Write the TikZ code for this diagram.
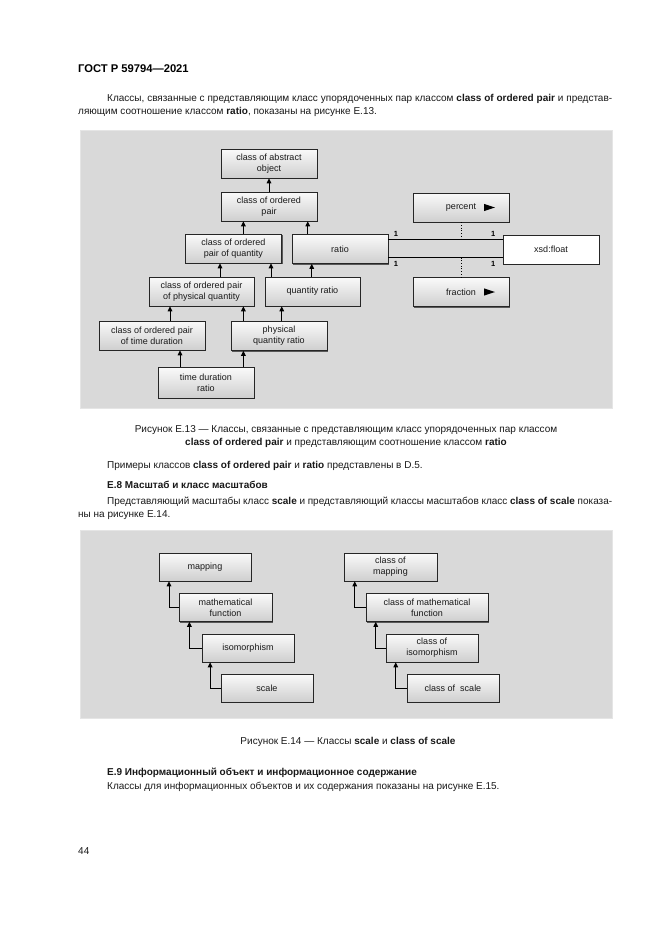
\documentclass[tikz,border=0pt]{standalone}
\usepackage{fontspec}
\setmainfont{Liberation Sans}
\usetikzlibrary{arrows.meta,shadows,calc}
\begin{document}
\begin{tikzpicture}[x=1pt,y=-1pt,
  box/.style={draw=gray!30!black, line width=0.6pt, top color=gray!4, bottom color=gray!38,
    minimum height=29pt, inner sep=1pt, align=center,
    font=\fontsize{9}{11}\selectfont, text=black!90,
    drop shadow={shadow xshift=1.4pt, shadow yshift=-1.4pt, fill=black!65, opacity=1}},
  wbox/.style={box, top color=white, bottom color=white},
  arr/.style={-{Triangle[length=5pt,width=4.6pt]}, line width=1pt},
  body/.style={anchor=base west, inner sep=0pt, font=\fontsize{10}{13}\selectfont, text=black!90},
  captext/.style={anchor=base, inner sep=0pt, font=\fontsize{10}{13}\selectfont, text=black!90},
  one/.style={inner sep=0pt, font=\bfseries\fontsize{7.5}{8}\selectfont},
  panel/.style={fill=black!15, draw=black!10, line width=0.8pt}
]
\fill[white] (0,0) rectangle (661,935);
\useasboundingbox (0,0) rectangle (661,935);

% header and text
\node[body, font=\bfseries\fontsize{11.2}{13}\selectfont, text=black] (hdr) at (78,72) {ГОСТ Р 59794—2021};
\node[body] (p1a) at (107,101.5) {\makebox[505pt][s]{Классы, связанные с представляющим класс упорядоченных пар классом \textbf{class of ordered pair} и представ-}};
\node[body] (p1b) at (78,114.5) {ляющим соотношение классом \textbf{ratio}, показаны на рисунке Е.13.};

% panel 1
\draw[panel] (80,130) rectangle (612,408);

\node[box, minimum width=96pt] (abs) at (269,163.5) {class of abstract\\object};
\node[box, minimum width=96pt] (pair) at (269,206.5) {class of ordered\\pair};
\node[box, minimum width=96pt] (opq) at (233.3,248.5) {class of ordered\\pair of quantity};
\node[box, minimum width=96pt] (ratio) at (340,249) {ratio};
\node[box, minimum width=105pt] (copq) at (201.5,291.5) {class of ordered pair\\of physical quantity};
\node[box, minimum width=95pt] (qratio) at (312.5,291.5) {quantity ratio};
\node[box, minimum width=106pt] (otd) at (152,335.5) {class of ordered pair\\of time duration};
\node[box, minimum width=96pt] (pqr) at (279,336) {physical\\quantity ratio};
\node[box, minimum width=96pt, minimum height=31pt] (tdr) at (206,382.5) {time duration\\ratio};
\node[box, minimum width=96pt] (percent) at (461,207.5) {percent};
\node[box, minimum width=96pt] (fraction) at (461,292) {fraction};
\node[wbox, minimum width=96pt] (float) at (551,249.5) {xsd:float};
\fill ($(percent.center)+(23,-3.6)$) -- ++(11,3.6) -- ++(-11,3.6) -- cycle;
\fill ($(fraction.center)+(23,-3.6)$) -- ++(11,3.6) -- ++(-11,3.6) -- cycle;

\coordinate (c1) at (243.4,0);
\coordinate (c2) at (307.7,0);
\coordinate (c3) at (220,0);
\coordinate (c4) at (271,0);
\coordinate (c5) at (311.7,0);
\coordinate (c6) at (170,0);
\coordinate (c8) at (281.7,0);
\coordinate (c9) at (180,0);
\coordinate (ly1) at (0,239.5);
\coordinate (ly2) at (0,257.5);

\draw[arr] (pair.north) -- (abs.south);
\draw[arr] (opq.north -| c1) -- (pair.south -| c1);
\draw[arr] (ratio.north -| c2) -- (pair.south -| c2);
\draw[arr] (copq.north -| c3) -- (opq.south -| c3);
\draw[arr] (qratio.north -| c4) -- (opq.south -| c4);
\draw[arr] (qratio.north -| c5) -- (ratio.south -| c5);
\draw[arr] (otd.north -| c6) -- (copq.south -| c6);
\draw[arr] (pqr.north -| c1) -- (copq.south -| c1);
\draw[arr] (pqr.north -| c8) -- (qratio.south -| c8);
\draw[arr] (tdr.north -| c9) -- (otd.south -| c9);
\draw[arr] (tdr.north -| c1) -- (pqr.south -| c1);

\draw[line width=0.8pt] (ratio.east |- ly1) -- (float.west |- ly1);
\draw[line width=0.8pt] (ratio.east |- ly2) -- (float.west |- ly2);
\draw[dotted, line width=0.7pt] (percent.south) -- (percent.south |- ly1);
\draw[dotted, line width=0.7pt] (fraction.north) -- (fraction.north |- ly2);
\node[one] (n1) at (396,233.5) {1};
\node[one] (n2) at (493.3,233.5) {1};
\node[one] (n3) at (396,263.5) {1};
\node[one] (n4) at (493.3,263.5) {1};

% caption 1 and text
\node[captext] (cap1a) at (346,432.5) {Рисунок Е.13 — Классы, связанные с представляющим класс упорядоченных пар классом};
\node[captext] (cap1b) at (346,445.5) {\textbf{class of ordered pair} и представляющим соотношение классом \textbf{ratio}};
\node[body] (p2) at (107,468.5) {Примеры классов \textbf{class of ordered pair} и \textbf{ratio} представлены в D.5.};
\node[body, font=\bfseries\fontsize{10}{13}\selectfont] (h8) at (107,488.5) {Е.8 Масштаб и класс масштабов};
\node[body] (p3a) at (107,504.5) {\makebox[505pt][s]{Представляющий масштабы класс \textbf{scale} и представляющий классы масштабов класс \textbf{class of scale} показа-}};
\node[body] (p3b) at (78,517.5) {ны на рисунке Е.14.};

% panel 2
\draw[panel] (80,530) rectangle (612,718);
\node[box, minimum width=92pt, minimum height=28pt] (map) at (205,567) {mapping};
\node[box, minimum width=93pt, minimum height=28pt] (mf) at (225.5,607.5) {mathematical\\function};
\node[box, minimum width=92pt, minimum height=28pt] (iso) at (248,648) {isomorphism};
\node[box, minimum width=92pt, minimum height=28pt] (sc) at (267,688) {scale};
\node[box, minimum width=93pt, minimum height=28pt] (cmap) at (390.5,567) {class of\\mapping};
\node[box, minimum width=122pt, minimum height=28pt] (cmf) at (427,607.5) {class of mathematical\\function};
\node[box, minimum width=92pt, minimum height=28pt] (ciso) at (432,648) {class of\\isomorphism};
\node[box, minimum width=92pt, minimum height=28pt] (csc) at (453,688) {class of\ \ scale};

\draw[arr] (mf.west) -| ([xshift=10.3pt]map.south west);
\draw[arr] (iso.west) -| ([xshift=10.7pt]mf.south west);
\draw[arr] (sc.west) -| ([xshift=8.4pt]iso.south west);
\draw[arr] (cmf.west) -| ([xshift=11pt]cmap.south west);
\draw[arr] (ciso.west) -| ([xshift=10pt]cmf.south west);
\draw[arr] (csc.west) -| ([xshift=10pt]ciso.south west);

% caption 2 and text
\node[captext] (cap2) at (348,744.5) {Рисунок Е.14 — Классы \textbf{scale} и \textbf{class of scale}};
\node[body, font=\bfseries\fontsize{10}{13}\selectfont] (h9) at (107,775.5) {Е.9 Информационный объект и информационное содержание};
\node[body] (p4) at (107,789.5) {Классы для информационных объектов и их содержания показаны на рисунке Е.15.};
\node[body] (pg) at (78,854.5) {44};
\end{tikzpicture}
\end{document}
